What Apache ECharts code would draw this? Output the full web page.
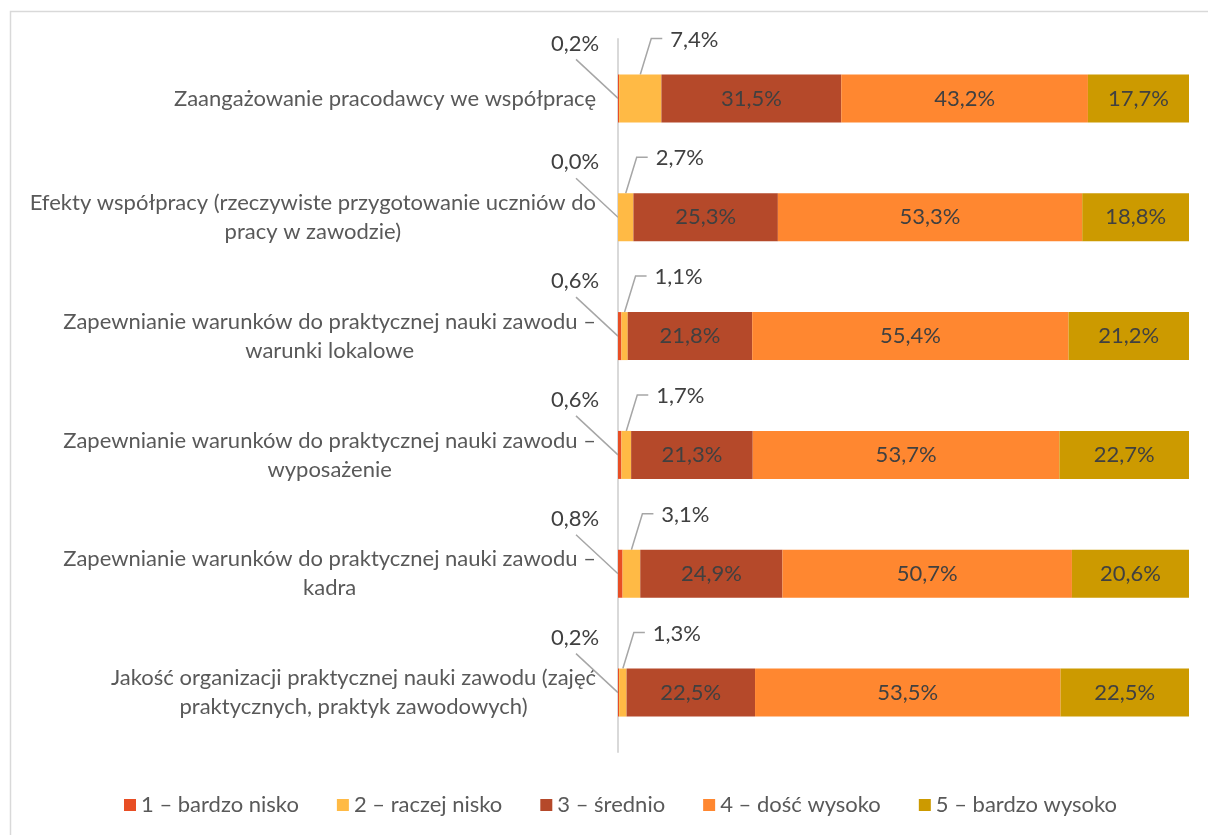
<!DOCTYPE html>
<html>
<head>
<meta charset="utf-8">
<script src="https://cdn.jsdelivr.net/npm/echarts@6/dist/echarts.min.js"></script>
<style>
html,body{margin:0;padding:0;background:#fff;}
#chart{width:1208px;height:835px;}
</style>
</head>
<body>
<div id="chart"></div>
<script>
const categories = [
  'Zaangażowanie pracodawcy we współpracę',
  'Efekty współpracy (rzeczywiste przygotowanie uczniów do\npracy w zawodzie)',
  'Zapewnianie warunków do praktycznej nauki zawodu –\nwarunki lokalowe',
  'Zapewnianie warunków do praktycznej nauki zawodu –\nwyposażenie',
  'Zapewnianie warunków do praktycznej nauki zawodu –\nkadra',
  'Jakość organizacji praktycznej nauki zawodu (zajęć\npraktycznych, praktyk zawodowych)'
];
const seriesNames = ['1 – bardzo nisko', '2 – raczej nisko', '3 – średnio', '4 – dość wysoko', '5 – bardzo wysoko'];
const veryLow  = [0.2, 0.0, 0.6, 0.6, 0.8, 0.2];
const ratherLow = [7.4, 2.7, 1.1, 1.7, 3.1, 1.3];
const medium   = [31.5, 25.3, 21.8, 21.3, 24.9, 22.5];
const fairlyHigh = [43.2, 53.3, 55.4, 53.7, 50.7, 53.5];
const veryHigh = [17.7, 18.8, 21.2, 22.7, 20.6, 22.5];

const colors = ['#E84E25', '#FFBA45', '#B5492A', '#FF8730', '#CC9A00'];
const FONT = 'Lato';
const fmt = v => v.toFixed(1).replace('.', ',') + '%';

// label offsets (layout only)
const L1 = {dx: -43, dy: -55};
const L2 = {dx: 54, dy: -35};

const chart = echarts.init(document.getElementById('chart'));

function barSeries(name, data, color, idx) {
  const s = {
    name: name, type: 'bar', stack: 'total', data: data, barWidth: 48,
    itemStyle: {color: color},
    label: {show: true, position: 'inside', formatter: p => fmt(p.value),
      color: '#404040', fontSize: 22, fontFamily: FONT},
    emphasis: {disabled: true}
  };
  if (idx === 0) {
    s.labelLayout = function (p) {
      const r = p.rect;
      return {x: r.x + L1.dx, y: r.y + r.height / 2 + L1.dy, align: 'center', verticalAlign: 'middle'};
    };
  } else if (idx === 1) {
    s.labelLayout = function (p) {
      const r = p.rect;
      return {x: r.x + r.width / 2 + L2.dx, y: r.y + L2.dy, align: 'center', verticalAlign: 'middle'};
    };
  }
  return s;
}

const series = [veryLow, ratherLow, medium, fairlyHigh, veryHigh].map((d, i) => barSeries(seriesNames[i], d, colors[i], i));

series.push({
  type: 'custom', silent: true, z: 1,
  data: categories.map((c, i) => [veryLow[i], ratherLow[i], i]),
  encode: {x: [0, 1], y: 2},
  renderItem: function (params, api) {
    const a = api.value(0), b = api.value(1), i = api.value(2);
    const c0 = api.coord([0, i]);
    const half = 24;
    const x0 = c0[0], y0 = c0[1];
    const segcx = api.coord([a + b / 2, i])[0];
    const l1x = x0 + L1.dx, l1y = y0 + L1.dy;
    const l2x = segcx + L2.dx, l2y = y0 - half + L2.dy;
    const style = {stroke: '#A6A6A6', lineWidth: 1.5, fill: null};
    return {type: 'group', children: [
      {type: 'polyline', shape: {points: [[l1x + 1, l1y + 16], [x0, y0]]}, style: style},
      {type: 'polyline', shape: {points: [[l2x - 32, l2y - 1], [l2x - 43, l2y - 1], [segcx, y0 - half]]}, style: style}
    ]};
  }
});

chart.setOption({
  animation: false,
  color: colors,
  graphic: [{type: 'rect', left: 8, top: 9, shape: {width: 1400, height: 1000},
    style: {fill: 'none', stroke: '#D9D9D9', lineWidth: 1.5}, silent: true}],
  grid: {left: 618, right: 19, top: 39, bottom: 83},
  legend: {
    data: seriesNames, left: 119, top: 789, icon: 'rect', itemWidth: 12, itemHeight: 12,
    itemGap: 38, textStyle: {color: '#595959', fontSize: 22, fontFamily: FONT}
  },
  xAxis: {type: 'value', min: 0, max: 100, show: false},
  yAxis: {
    type: 'category', inverse: true, data: categories,
    axisLine: {show: true, lineStyle: {color: '#D9D9D9', width: 2}},
    axisTick: {show: false},
    axisLabel: {
      margin: 22,
      formatter: v => v.split('\n').map(t => '{c|' + t + '}').join('\n'),
      rich: {c: {align: 'center', color: '#595959', fontSize: 22, fontFamily: FONT, lineHeight: 29}}
    }
  },
  series: series
});
</script>
</body>
</html>
